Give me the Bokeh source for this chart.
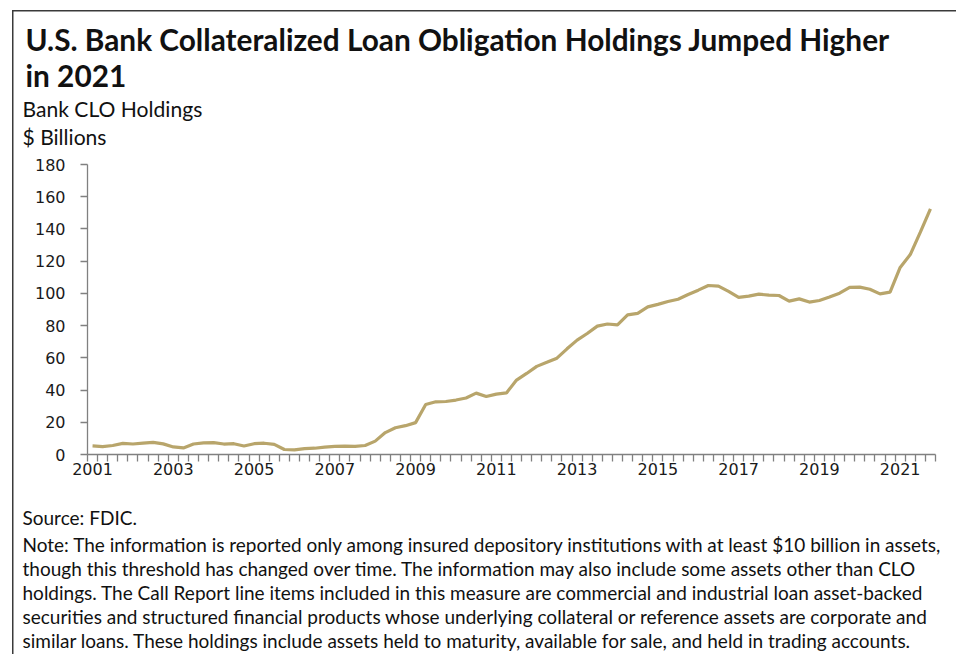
from bokeh.plotting import figure
from bokeh.models import Range1d, FixedTicker, Title
from bokeh.embed import file_html
from bokeh.resources import INLINE

# ---- data ----
first_year = 2001
n_quarters = 84
quarters = [f"{first_year + i // 4}Q{i % 4 + 1}" for i in range(n_quarters)]
clo_holdings = [5.3, 4.9, 5.6, 6.9, 6.5, 7.1, 7.5, 6.6, 4.7, 4.1,
                6.5, 7.2, 7.4, 6.5, 6.7, 5.3, 6.7, 7.0, 6.3, 3.1,
                2.9, 3.7, 3.9, 4.6, 5.0, 5.2, 5.0, 5.6, 8.3, 13.6,
                16.6, 17.9, 19.8, 31.0, 32.7, 32.9, 33.8, 35.1, 38.1, 36.0,
                37.5, 38.2, 46.2, 50.3, 54.7, 57.2, 59.8, 65.6, 71.0, 75.1,
                79.7, 81.0, 80.5, 86.7, 87.6, 91.6, 93.2, 95.0, 96.4, 99.3,
                102.0, 104.9, 104.5, 101.2, 97.5, 98.3, 99.5, 98.9, 98.7, 95.2,
                96.6, 94.6, 95.6, 97.7, 100.1, 103.7, 103.9, 102.6, 99.7, 100.8,
                116.1, 124.1, 138.0, 152.5]
year_labels = ["2001", "2003", "2005", "2007", "2009", "2011",
               "2013", "2015", "2017", "2019", "2021"]
y_ticks = [0, 20, 40, 60, 80, 100, 120, 140, 160, 180]

title_lines = ["U.S. Bank Collateralized Loan Obligation Holdings Jumped Higher", "in 2021"]
subtitle_lines = ["Bank CLO Holdings", "$ Billions"]
source_line = "Source: FDIC."
note_lines = [
    "Note: The information is reported only among insured depository institutions with at least $10 billion in assets,",
    "though this threshold has changed over time. The information may also include some assets other than CLO",
    "holdings. The Call Report line items included in this measure are commercial and industrial loan asset-backed",
    "securities and structured financial products whose underlying collateral or reference assets are corporate and",
    "similar loans. These holdings include assets held to maturity, available for sale, and held in trading accounts.",
]

x_idx = list(range(len(clo_holdings)))
year_pos = [quarters.index(y + "Q1") for y in year_labels]

FRAME_L, FRAME_T = 87, 164
FRAME_W, FRAME_H = 848, 290
W, H = 956, 654

p = figure(width=W, height=H, output_backend="svg", toolbar_location=None,
           x_range=Range1d(-0.5, n_quarters - 0.5), y_range=Range1d(0, 180),
           min_border_left=FRAME_L, min_border_right=W - FRAME_L - FRAME_W,
           min_border_top=FRAME_T, min_border_bottom=H - FRAME_T - FRAME_H)
p.outline_line_color = None
p.grid.visible = False
p.background_fill_color = "white"
p.border_fill_color = None
p.styles = {
    "background": "linear-gradient(#3a3a3a, #3a3a3a) 12px 10px / 1.5px 100% no-repeat, "
                  "linear-gradient(#3a3a3a, #3a3a3a) 12px 10px / 100% 1.5px no-repeat, white"
}

axis_col = "#808080"
tick_font = "DejaVu Sans"

p.yaxis.ticker = FixedTicker(ticks=y_ticks, minor_ticks=[])
p.yaxis.axis_line_color = axis_col
p.yaxis.axis_line_width = 1.3
p.yaxis.major_tick_line_color = axis_col
p.yaxis.major_tick_line_width = 1.3
p.yaxis.major_tick_out = 7
p.yaxis.major_tick_in = 0
p.yaxis.minor_tick_line_color = None
p.yaxis.major_label_text_font = tick_font
p.yaxis.major_label_text_font_size = "16px"
p.yaxis.major_label_text_color = "#1a1a1a"
p.yaxis.major_label_standoff = 15

p.xaxis.ticker = FixedTicker(ticks=year_pos,
                             minor_ticks=[i - 0.5 for i in range(n_quarters + 1)])
p.xaxis.major_label_overrides = {pos: lab for pos, lab in zip(year_pos, year_labels)}
p.xaxis.axis_line_color = axis_col
p.xaxis.axis_line_width = 1.3
p.xaxis.major_tick_line_color = None
p.xaxis.major_tick_out = 0
p.xaxis.major_tick_in = 0
p.xaxis.minor_tick_line_color = axis_col
p.xaxis.minor_tick_line_width = 1.3
p.xaxis.minor_tick_out = 7
p.xaxis.minor_tick_in = 0
p.xaxis.major_label_text_font = tick_font
p.xaxis.major_label_text_font_size = "16px"
p.xaxis.major_label_text_color = "#1a1a1a"
p.xaxis.major_label_standoff = 1

p.line(x=x_idx, y=clo_holdings, line_color="#B8A56B", line_width=3.2)

TXT_FONT = "Lato"


def make_title(txt, px, size, bold=False, standoff=0.0):
    return Title(text=txt, align="left", offset=px - FRAME_L, standoff=standoff,
                 text_font=TXT_FONT, text_font_size=size,
                 text_font_style="bold" if bold else "normal",
                 text_color="#111111")


def spacer(gap):
    return Title(text=" ", text_font=TXT_FONT, text_font_size="1px", standoff=gap - 1.3)


# above: first added sits closest to the plot frame
p.add_layout(spacer(13.7), "above")
p.add_layout(make_title(subtitle_lines[1], 22, "21.1px"), "above")
p.add_layout(make_title(subtitle_lines[0], 22, "21.1px", standoff=2), "above")
p.add_layout(make_title(title_lines[1], 25, "29.8px", True), "above")
p.add_layout(make_title(title_lines[0], 25, "29.8px", True, standoff=-3), "above")

# below: after the x axis, in reading order
p.add_layout(spacer(21.8), "below")
p.add_layout(make_title(source_line, 22, "19px", standoff=5.3), "below")
for line in note_lines:
    p.add_layout(make_title(line, 22, "19px", standoff=-0.7), "below")

open("out.html", "w").write(file_html(p, INLINE))
